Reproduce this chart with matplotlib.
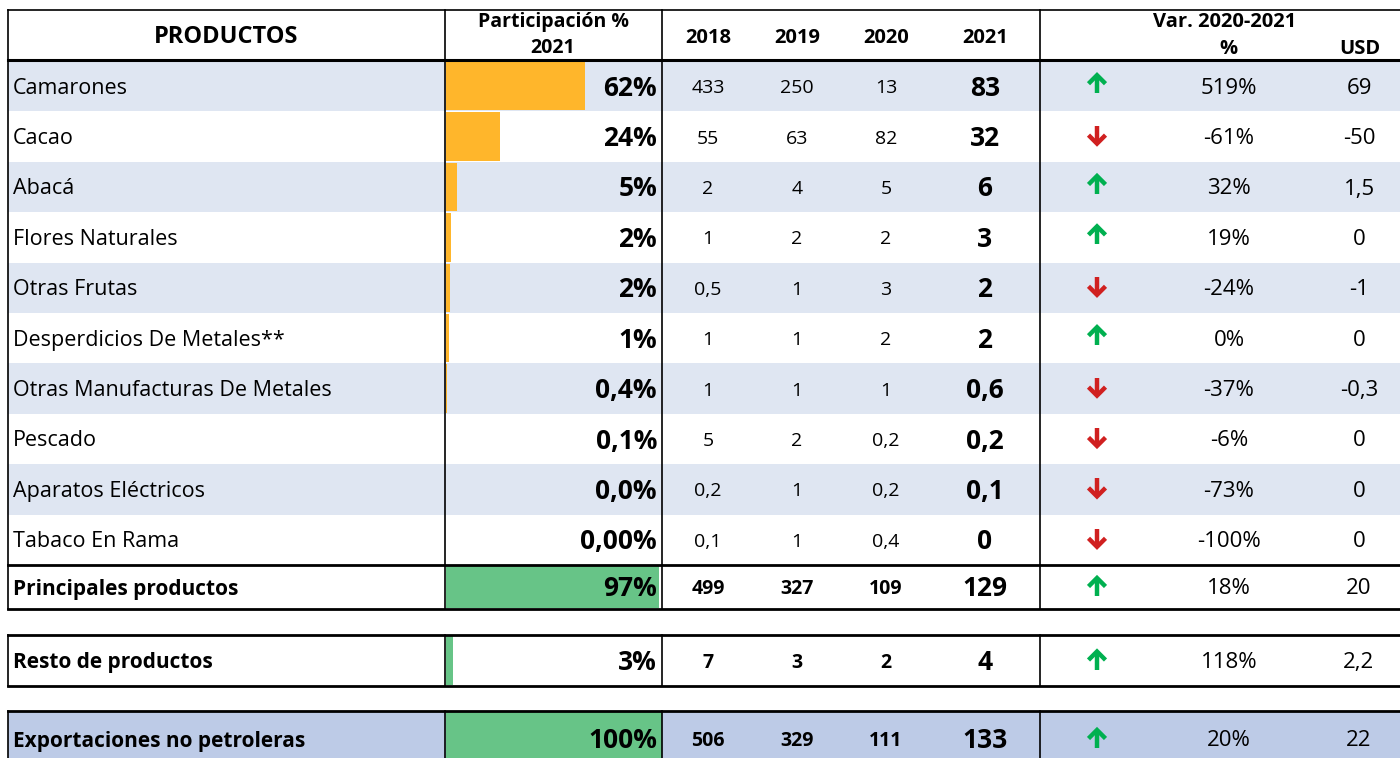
import matplotlib.pyplot as plt

plt.rcParams['font.family'] = ['Open Sans', 'DejaVu Sans']

# Data
products = ['Camarones', 'Cacao', 'Abacá', 'Flores Naturales', 'Otras Frutas',
            'Desperdicios De Metales**', 'Otras Manufacturas De Metales', 'Pescado',
            'Aparatos Eléctricos', 'Tabaco En Rama']
share = [62, 24, 5, 2.2, 1.8, 1.3, 0.4, 0.1, 0.04, 0.0]
share_labels = ['62%', '24%', '5%', '2%', '2%', '1%', '0,4%', '0,1%', '0,0%', '0,00%']
v2018 = [433, 55, 2, 1, 0.5, 1, 1, 5, 0.2, 0.1]
v2019 = [250, 63, 4, 2, 1, 1, 1, 2, 1, 1]
v2020 = [13, 82, 5, 2, 3, 2, 1, 0.2, 0.2, 0.4]
v2021 = [83, 32, 6, 3, 2, 2, 0.6, 0.2, 0.1, 0]
var_pct = [519, -61, 32, 19, -24, 0, -37, -6, -73, -100]
var_usd = [69, -50, 1.5, 0, -1, 0, -0.3, 0, 0, 0]

tot_names = ['Principales productos', 'Resto de productos', 'Exportaciones no petroleras']
tot_share = [97, 3, 100]
tot_2018 = [499, 7, 506]
tot_2019 = [327, 3, 329]
tot_2020 = [109, 2, 111]
tot_2021 = [129, 4, 133]
tot_pct = [18, 118, 20]
tot_usd = [20, 2.2, 22]

years = ['2018', '2019', '2020', '2021']

ORANGE = '#ffb62b'
GREEN = '#67c487'
LIGHT = '#dfe6f2'
BLUE = '#bdcbe7'
UP = '#00b050'
DOWN = '#d02020'

FS_LABEL = 15.5
FS_BIG = 19
FS_YEAR = 14
FS_VAR = 16
FS_HEAD = 14.5
DY = 2  # text sits slightly low in the cells


def fmt(v):
    return f'{v:g}'.replace('.', ',')


def arrow(ax, x, yc, up):
    # Excel style icon arrow: stem plus open chevron head
    color = UP if up else DOWN
    s = -1 if up else 1
    ax.plot([x, x], [yc - s * 9, yc + s * 8], color=color, lw=3.2, solid_capstyle='butt', zorder=3)
    ax.plot([x - 8.5, x, x + 8.5], [yc + s * 0.5, yc + s * 9, yc + s * 0.5], color=color, lw=3.2,
            solid_joinstyle='miter', solid_capstyle='butt', zorder=3)


fig = plt.figure(figsize=(14, 7.58), dpi=100)
ax = fig.add_axes([0, 0, 1, 1])
ax.set_xlim(0, 1400)
ax.set_ylim(758, 0)
ax.axis('off')

x_left, x_right = 8, 1400
x_prod, x_share, x_var = 445, 662, 1040
x_years = [708, 797, 886, 985]
x_arrow, x_pct, x_usd = 1097, 1229, 1359
bar_left = 446
bar_max = x_share - bar_left

# header
ax.text(226, 37, 'PRODUCTOS', ha='center', va='center', fontsize=17, fontweight='bold')
ax.text(553, 22, 'Participación %', ha='center', va='center', fontsize=FS_HEAD - 0.5, fontweight='bold')
ax.text(553, 48, '2021', ha='center', va='center', fontsize=FS_HEAD - 0.5, fontweight='bold')
for x, y in zip(x_years, years):
    ax.text(x, 38, y, ha='center', va='center', fontsize=FS_HEAD, fontweight='bold')
ax.text(1225, 22, 'Var. 2020-2021', ha='center', va='center', fontsize=FS_HEAD, fontweight='bold')
ax.text(1228, 49, '%', ha='center', va='center', fontsize=FS_HEAD, fontweight='bold')
ax.text(1360, 49, 'USD', ha='center', va='center', fontsize=FS_HEAD, fontweight='bold')

# product rows
top, row_h = 61, 50.4
centers = [top + row_h * i + row_h / 2 for i in range(len(products))]
for i, yc in enumerate(centers):
    if i % 2 == 0:
        ax.axhspan(yc - row_h / 2, yc + row_h / 2, xmin=x_left / 1400, xmax=1, color=LIGHT, lw=0, zorder=0)

ax.barh(centers, [s * 2.24 for s in share], left=bar_left, height=row_h - 2, color=ORANGE, zorder=1)

for i, yc in enumerate(centers):
    ty = yc + DY
    ax.text(13, ty, products[i], ha='left', va='center', fontsize=FS_LABEL)
    ax.text(657, ty, share_labels[i], ha='right', va='center', fontsize=FS_BIG, fontweight='bold', zorder=3)
    for x, vals in zip(x_years[:3], [v2018, v2019, v2020]):
        ax.text(x, ty, fmt(vals[i]), ha='center', va='center', fontsize=FS_YEAR)
    ax.text(x_years[3], ty, fmt(v2021[i]), ha='center', va='center', fontsize=FS_BIG, fontweight='bold')
    arrow(ax, x_arrow, yc - 2, var_pct[i] >= 0)
    ax.text(x_pct, ty, f'{var_pct[i]}%', ha='center', va='center', fontsize=FS_VAR)
    ax.text(x_usd, ty, fmt(var_usd[i]), ha='center', va='center', fontsize=FS_VAR)

# total rows
tot_boxes = [(565, 609), (635, 686), (711, 770)]
for k, (y0, y1) in enumerate(tot_boxes):
    yc = (y0 + y1) / 2 if k < 2 else 739
    ty = yc + DY
    if k == 2:
        ax.axhspan(y0, y1, xmin=x_left / 1400, xmax=1, color=BLUE, lw=0, zorder=0)
    ax.barh([(y0 + y1) / 2], [min(tot_share[k] * 2.2, bar_max)], left=bar_left,
            height=(y1 - y0) - 2, color=GREEN, zorder=1)
    ax.text(13, ty, tot_names[k], ha='left', va='center', fontsize=FS_LABEL - 0.5, fontweight='bold')
    ax.text(657, ty, f'{tot_share[k]}%', ha='right', va='center', fontsize=FS_BIG, fontweight='bold', zorder=3)
    for x, vals in zip(x_years[:3], [tot_2018, tot_2019, tot_2020]):
        ax.text(x, ty, fmt(vals[k]), ha='center', va='center', fontsize=FS_YEAR, fontweight='bold')
    ax.text(x_years[3], ty, fmt(tot_2021[k]), ha='center', va='center', fontsize=FS_BIG, fontweight='bold')
    arrow(ax, x_arrow, yc, tot_pct[k] >= 0)
    ax.text(x_pct, ty, f'{tot_pct[k]}%', ha='center', va='center', fontsize=FS_VAR)
    ax.text(x_usd, ty, fmt(tot_usd[k]), ha='center', va='center', fontsize=FS_VAR)
    ax.plot([x_left, x_right], [y0, y0], color='black', lw=2, zorder=4)
    if k < 2:
        ax.plot([x_left, x_right], [y1, y1], color='black', lw=2, zorder=4)
    for x in [x_left, x_prod, x_share, x_var]:
        ax.plot([x, x], [y0, y1], color='black', lw=1.2, zorder=4)

# table borders
ax.plot([x_left, x_right], [10, 10], color='black', lw=1.2, zorder=4)
ax.plot([x_left, x_right], [60, 60], color='black', lw=2.2, zorder=4)
for x in [x_left, x_prod, x_share, x_var]:
    ax.plot([x, x], [10, 565], color='black', lw=1.2, zorder=4)

fig.savefig('out.png', dpi=100)
